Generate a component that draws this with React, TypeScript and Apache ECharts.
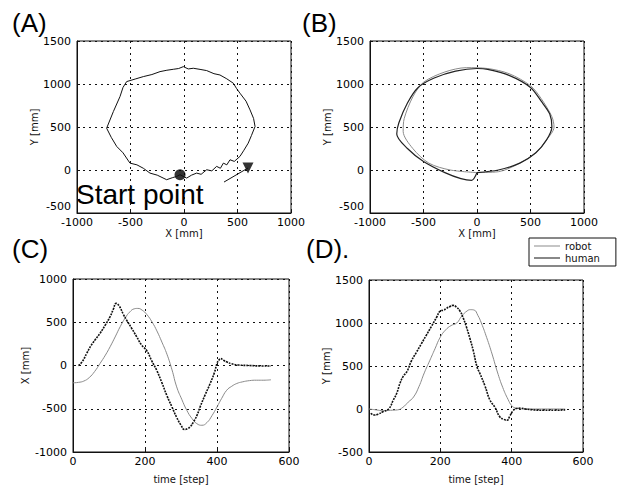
import React, { useEffect, useRef } from "react";
import * as echarts from "echarts";

// Panel A: human hand trajectory (X, Y) in mm
const loopAX = [-37, 25, 70, 118, 160, 212, 260, 305, 340, 368, 400, 430, 470, 523, 560, 600, 630, 664, 650, 617, 580, 523, 490, 461, 400, 336, 280, 212, 150, 87, 40, -6, -50, -100, -160, -224, -300, -380, -450, -536, -570, -598, -660, -723, -680, -629, -570, -505, -440, -380, -318, -250, -162, -110, -69, -37];
const loopAY = [-55, -94, -60, -36, -50, 3, -10, 42, 20, 80, 60, 119, 100, 158, 230, 312, 400, 506, 600, 699, 800, 893, 950, 1009, 1060, 1105, 1120, 1156, 1170, 1183, 1175, 1202, 1180, 1171, 1160, 1144, 1110, 1086, 1060, 1028, 960, 854, 680, 486, 380, 274, 200, 80, 60, 20, -36, -60, -113, -90, -75, -55];
const startPoint = [[-37, -55]];
const arrowLine = [[374, -140], [598, 23]];

// Panel B: loops of robot and human
const loopBHumanX = [0, 200, 400, 550, 650, 700, 680, 600, 500, 300, 100, 0, -200, -400, -550, -650, -730, -750, -650, -500, -300, -150, -50, 0];
const loopBHumanY = [-30, 0, 80, 200, 350, 500, 650, 800, 960, 1100, 1170, 1180, 1150, 1070, 960, 780, 550, 420, 250, 100, -30, -100, -120, -30];
const loopBRobotX = [0, 200, 400, 550, 650, 720, 700, 600, 500, 300, 100, -100, -300, -500, -600, -680, -690, -600, -450, -250, 0];
const loopBRobotY = [-30, -20, 80, 200, 350, 500, 620, 830, 980, 1120, 1180, 1190, 1140, 1020, 850, 600, 450, 250, 80, 0, -30];

// Panel C: X over time
const humanXT = [15, 25, 38, 50, 62, 75, 90, 103, 112, 120, 128, 140, 149, 163, 177, 190, 205, 218, 233, 247, 261, 275, 288, 300, 310, 318, 325, 335, 345, 353, 367, 381, 393, 400, 405, 410, 418, 428, 440, 460, 490, 520, 550];
const humanX = [0, 40, 139, 230, 300, 371, 470, 564, 650, 718, 690, 590, 525, 430, 332, 240, 170, 60, -60, -200, -350, -480, -600, -690, -740, -730, -710, -650, -570, -479, -340, -208, -80, 23, 60, 81, 60, 40, 20, 5, 0, -5, -5];
const robotXT = [0, 15, 30, 45, 60, 75, 90, 103, 117, 131, 145, 158, 170, 180, 192, 205, 220, 233, 247, 261, 275, 288, 302, 316, 330, 344, 358, 372, 386, 400, 413, 427, 441, 455, 470, 490, 510, 530, 550];
const robotX = [-200, -195, -180, -140, -70, 23, 120, 216, 330, 448, 550, 620, 655, 660, 640, 590, 500, 400, 270, 130, -50, -247, -390, -517, -610, -672, -691, -660, -580, -479, -380, -286, -240, -208, -190, -175, -170, -170, -165];

// Panel D: Y over time
const humanYT = [5, 15, 25, 40, 55, 68, 78, 87, 96, 107, 119, 133, 147, 161, 175, 190, 200, 210, 217, 226, 236, 245, 255, 264, 273, 283, 292, 303, 311, 325, 339, 353, 367, 378, 387, 395, 404, 413, 425, 440, 460, 490, 520, 550];
const humanY = [-50, -70, -60, -30, 0, 102, 186, 300, 380, 440, 560, 660, 760, 860, 960, 1070, 1140, 1150, 1170, 1190, 1205, 1185, 1140, 1060, 956, 820, 684, 488, 413, 270, 105, 20, -92, -120, -131, -80, -20, 6, 10, 0, -10, -15, -15, -10];
const robotYT = [0, 20, 40, 60, 80, 95, 110, 125, 140, 155, 170, 185, 200, 215, 230, 246, 260, 275, 285, 295, 305, 315, 330, 345, 360, 375, 390, 400, 410, 420, 435, 460, 500, 550];
const robotY = [0, -10, -20, -15, -10, 20, 80, 140, 260, 420, 560, 700, 837, 920, 970, 1000, 1080, 1140, 1155, 1150, 1090, 1000, 830, 640, 430, 250, 110, 40, 12, 5, 0, 0, 0, 0];

const mmTicks = [-1000, -500, 0, 500, 1000];
const stepTicks = [0, 200, 400, 600];

const zip = (a: number[], b: number[]) => a.map((v, i) => [v, b[i]]);

const FONT = "DejaVu Sans";

function makeAxis(gridIndex: number, min: number, max: number, interval: number, name: string, isY: boolean, nameGap: number, raiseMin = false) {
  return {
    type: "value",
    gridIndex,
    min,
    max,
    interval,
    name,
    nameLocation: "middle",
    nameGap,
    nameTextStyle: { fontFamily: FONT, fontSize: 10, color: "#111" },
    axisLine: { show: true, onZero: false, lineStyle: { color: "#111", width: 1 } },
    axisTick: { show: true, inside: true, length: 3, lineStyle: { color: "#111" } },
    axisLabel: {
      fontFamily: FONT,
      fontSize: 11,
      color: "#000",
      margin: isY ? 6 : 4,
      formatter: (v: number) => (raiseMin && v === min ? "{lo|" + String(v) + "}" : String(v)),
      rich: { lo: { fontFamily: FONT, fontSize: 11, color: "#000", padding: [0, 0, 14, 0] } },
    },
    splitLine: { show: true, lineStyle: { color: "#111", type: [2, 4], width: 1 } },
  };
}

export default function App() {
  const ref = useRef<HTMLDivElement>(null);
  useEffect(() => {
    document.body.style.margin = "0";
    const chart = echarts.init(ref.current!, null, { renderer: "svg" });
    const gridStyle = { show: true, borderColor: "#111", borderWidth: 1, backgroundColor: "#fff", containLabel: false };
    const humanStyle = { color: "#111", width: 1.6, type: [2, 1] };
    const robotStyle = { color: "#8a8a8a", width: 1 };
    chart.setOption({
      animation: false,
      backgroundColor: "#fff",
      grid: [
        { ...gridStyle, left: 77, top: 41, width: 214, height: 172 },
        { ...gridStyle, left: 370, top: 41, width: 214, height: 172 },
        { ...gridStyle, left: 73, top: 279, width: 216, height: 173 },
        { ...gridStyle, left: 369, top: 280, width: 214, height: 172 },
      ],
      xAxis: [
        makeAxis(0, mmTicks[0], mmTicks[mmTicks.length - 1], 500, "X [mm]", false, 14),
        makeAxis(1, mmTicks[0], mmTicks[mmTicks.length - 1], 500, "X [mm]", false, 14),
        makeAxis(2, stepTicks[0], stepTicks[stepTicks.length - 1], 200, "time [step]", false, 22),
        makeAxis(3, stepTicks[0], stepTicks[stepTicks.length - 1], 200, "time [step]", false, 22),
      ],
      yAxis: [
        makeAxis(0, -500, 1500, 500, "Y [mm]", true, 37, true),
        makeAxis(1, -500, 1500, 500, "Y [mm]", true, 37, true),
        makeAxis(2, -1000, 1000, 500, "X [mm]", true, 43),
        makeAxis(3, -500, 1500, 500, "Y [mm]", true, 37),
      ],
      legend: {
        orient: "vertical",
        left: 529,
        top: 238,
        data: ["robot", "human"],
        itemWidth: 26,
        itemHeight: 8,
        itemGap: 2,
        padding: [3, 16, 3, 5],
        borderColor: "#111",
        borderWidth: 1,
        backgroundColor: "#fff",
        textStyle: { fontFamily: FONT, fontSize: 10, color: "#111" },
        icon: "path://M0,0L26,0L26,1L0,1Z",
      },
      series: [
        { type: "line", name: "trajectory", xAxisIndex: 0, yAxisIndex: 0, data: zip(loopAX, loopAY), showSymbol: false, lineStyle: { color: "#111", width: 1 } },
        { type: "scatter", name: "start", xAxisIndex: 0, yAxisIndex: 0, data: startPoint, symbol: "circle", symbolSize: 11, itemStyle: { color: "#000" } },
        { type: "line", name: "arrow", xAxisIndex: 0, yAxisIndex: 0, data: arrowLine, showSymbol: false, lineStyle: { color: "#111", width: 1 } },
        { type: "scatter", name: "arrowHead", xAxisIndex: 0, yAxisIndex: 0, data: [arrowLine[1]], symbol: "triangle", symbolRotate: 180, symbolSize: 11, itemStyle: { color: "#000" } },
        { type: "line", name: "robot", xAxisIndex: 1, yAxisIndex: 1, data: zip(loopBRobotX, loopBRobotY), showSymbol: false, smooth: 0.3, lineStyle: robotStyle, itemStyle: { color: "#8a8a8a" } },
        { type: "line", name: "human", xAxisIndex: 1, yAxisIndex: 1, data: zip(loopBHumanX, loopBHumanY), showSymbol: false, smooth: 0.3, lineStyle: { color: "#222", width: 1.2 }, itemStyle: { color: "#111" } },
        { type: "line", name: "robot", xAxisIndex: 2, yAxisIndex: 2, data: zip(robotXT, robotX), showSymbol: false, smooth: true, lineStyle: robotStyle, itemStyle: { color: "#8a8a8a" } },
        { type: "line", name: "human", xAxisIndex: 2, yAxisIndex: 2, data: zip(humanXT, humanX), showSymbol: false, smooth: true, lineStyle: humanStyle, itemStyle: { color: "#111" } },
        { type: "line", name: "robot", xAxisIndex: 3, yAxisIndex: 3, data: zip(robotYT, robotY), showSymbol: false, smooth: true, lineStyle: robotStyle, itemStyle: { color: "#8a8a8a" } },
        { type: "line", name: "human", xAxisIndex: 3, yAxisIndex: 3, data: zip(humanYT, humanY), showSymbol: false, smooth: true, lineStyle: humanStyle, itemStyle: { color: "#111" } },
      ],
      graphic: [
        { type: "text", left: 12, top: 10, style: { text: "(A)", fontFamily: "Liberation Sans", fontSize: 26, fill: "#000" } },
        { type: "text", left: 302, top: 10, style: { text: "(B)", fontFamily: "Liberation Sans", fontSize: 26, fill: "#000" } },
        { type: "text", left: 12, top: 236, style: { text: "(C)", fontFamily: "Liberation Sans", fontSize: 26, fill: "#000" } },
        { type: "text", left: 306, top: 236, style: { text: "(D).", fontFamily: "Liberation Sans", fontSize: 26, fill: "#000" } },
        { type: "text", left: 76, top: 180, style: { text: "Start point", fontFamily: "Liberation Sans", fontSize: 28, fill: "#000" } },
      ],
    });
    return () => chart.dispose();
  }, []);
  return <div ref={ref} style={{ width: 620, height: 494 }} />;
}
